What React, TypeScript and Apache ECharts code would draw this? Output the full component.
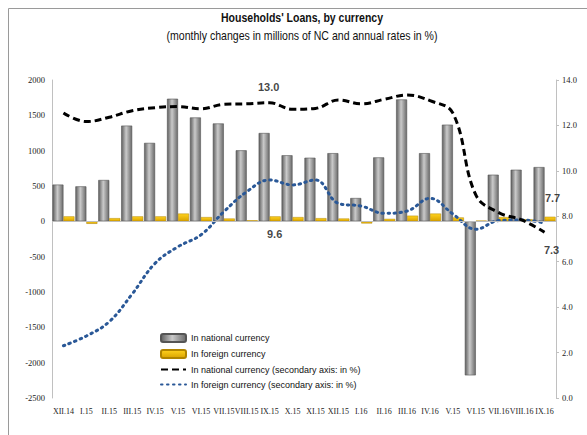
import React, { useEffect, useRef } from "react";
import * as echarts from "echarts";

const categories = ["XII.14", "I.15", "II.15", "III.15", "IV.15", "V.15", "VI.15", "VII.15", "VIII.15", "IX.15", "X.15", "XI.15", "XII.15", "I.16", "II.16", "III.16", "IV.16", "V.15", "VI.15", "VII.16", "VIII.16", "IX.16"];
const nationalBars = [520, 495, 585, 1355, 1110, 1735, 1470, 1385, 1005, 1250, 935, 900, 965, 330, 905, 1725, 965, 1368, -2180, 660, 730, 768];
const foreignBars = [70, -35, 45, 70, 70, 110, 60, 40, 15, 70, 60, 45, 40, -30, 35, 80, 110, 55, 10, 60, 30, 65];
const nationalRate = [12.55, 12.17, 12.36, 12.65, 12.78, 12.83, 12.73, 12.93, 12.95, 13.0, 12.71, 12.75, 13.12, 12.95, 13.15, 13.34, 13.09, 12.54, 8.94, 8.16, 7.84, 7.3];
const foreignRate = [2.3, 2.73, 3.36, 4.58, 5.93, 6.66, 7.18, 8.2, 9.08, 9.6, 9.38, 9.6, 8.57, 8.45, 8.13, 8.23, 8.79, 8.1, 7.43, 7.81, 7.84, 7.7];
const leftTicks = { min: -2500, max: 2000, interval: 500 };
const rightTicks = { min: 0, max: 14, interval: 2 };
const titleText = "Households' Loans, by currency";
const subtitleText = "(monthly changes in millions of NC and annual rates in %)";
const seriesNames = [
  "In national currency",
  "In foreign currency",
  "In national currency (secondary axis: in %)",
  "In foreign currency (secondary axis: in %)",
];

const SANS = "'Liberation Sans', Arial, sans-serif";
const SERIF = "'Liberation Serif', 'Times New Roman', serif";

function labelled(values: number[], idx: number[]) {
  return values.map((v, i) => (idx.includes(i) ? v : "-"));
}

export default function App() {
  const ref = useRef<HTMLDivElement>(null);
  useEffect(() => {
    const chart = echarts.init(ref.current!, null, { renderer: "svg" });
    const grayGrad = new echarts.graphic.LinearGradient(0, 0, 1, 0, [
      { offset: 0, color: "#5f5f5f" },
      { offset: 0.45, color: "#cacaca" },
      { offset: 1, color: "#6a6a6a" },
    ]);
    const goldGrad = new echarts.graphic.LinearGradient(0, 0, 0, 1, [
      { offset: 0, color: "#ffd21f" },
      { offset: 1, color: "#d9a300" },
    ]);
    const last = categories.length - 1;
    const lblBase = {
      show: true,
      formatter: (p: any) => Number(p.value).toFixed(1),
      fontFamily: SANS,
      fontWeight: "bold",
      fontSize: 11,
      color: "#111",
    };
    chart.setOption({
      animation: false,
      backgroundColor: "#ffffff",
      graphic: [
        {
          type: "rect",
          shape: { x: 8.5, y: 8.5, width: 640, height: 500 },
          style: { fill: "none", stroke: "#9a9a9a", lineWidth: 1 },
          silent: true,
        },
        {
          type: "text",
          x: 302,
          y: 18,
          scaleX: 0.81,
          style: {
            text: titleText,
            fontFamily: SANS,
            fontWeight: "bold",
            fontSize: 13,
            fill: "#111",
            align: "center",
            verticalAlign: "middle",
          },
        },
        {
          type: "text",
          x: 302,
          y: 36,
          scaleX: 0.88,
          style: {
            text: subtitleText,
            fontFamily: SANS,
            fontSize: 12,
            fill: "#111",
            align: "center",
            verticalAlign: "middle",
          },
        },
      ],
      legend: {
        orient: "vertical",
        left: 155,
        top: 328,
        itemGap: 6,
        itemWidth: 25,
        itemHeight: 8,
        textStyle: { fontFamily: SANS, fontSize: 9, color: "#111" },
        data: [
          { name: seriesNames[0] },
          { name: seriesNames[1] },
          { name: seriesNames[2], itemStyle: { opacity: 0 } },
          { name: seriesNames[3], itemStyle: { opacity: 0 } },
        ],
      },
      grid: { left: 52, right: 31, top: 80, bottom: 37 },
      xAxis: {
        type: "category",
        data: categories,
        axisLine: { show: false },
        axisTick: { show: false },
        axisLabel: {
          interval: 0,
          fontFamily: SERIF,
          fontSize: 8,
          color: "#222",
          margin: 9,
        },
      },
      yAxis: [
        {
          type: "value",
          ...leftTicks,
          splitLine: { show: false },
          axisLine: { show: true, lineStyle: { color: "#c0c0c0" } },
          axisTick: { show: false },
          axisLabel: {
            fontFamily: SERIF,
            fontSize: 8.5,
            color: "#222",
            margin: 7,
            formatter: (v: number) => String(v),
          },
        },
        {
          type: "value",
          ...rightTicks,
          position: "right",
          splitLine: { show: false },
          axisLine: { show: true, lineStyle: { color: "#c0c0c0" } },
          axisTick: { show: true, length: 3, lineStyle: { color: "#c0c0c0" } },
          axisLabel: {
            fontFamily: SERIF,
            fontSize: 8.5,
            color: "#222",
            margin: 6,
            formatter: (v: number) => v.toFixed(1),
          },
        },
      ],
      series: [
        {
          name: seriesNames[0],
          type: "bar",
          yAxisIndex: 0,
          data: nationalBars,
          barGap: "0%",
          barCategoryGap: "4%",
          itemStyle: { color: grayGrad, borderColor: "#555", borderWidth: 0.6 },
          markLine: {
            silent: true,
            symbol: "none",
            label: { show: false },
            lineStyle: { color: "#bdbdbd", type: "solid", width: 1 },
            data: [{ yAxis: 0 }],
          },
          z: 2,
        },
        {
          name: seriesNames[1],
          type: "bar",
          yAxisIndex: 0,
          data: foreignBars,
          itemStyle: { color: goldGrad, borderColor: "#b08400", borderWidth: 0.5 },
          z: 2,
        },
        {
          name: seriesNames[2],
          type: "line",
          yAxisIndex: 1,
          smooth: 0.4,
          symbol: "none",
          data: nationalRate,
          lineStyle: { color: "#000", width: 3, type: [7, 4] },
          itemStyle: { color: "#000" },
          z: 5,
        },
        {
          name: seriesNames[3],
          type: "line",
          yAxisIndex: 1,
          smooth: 0.4,
          symbol: "none",
          data: foreignRate,
          lineStyle: { color: "#2a5897", width: 3, type: [1.5, 4.5], cap: "round" },
          itemStyle: { color: "#2a5897" },
          z: 4,
        },
        {
          name: "national-labels",
          type: "scatter",
          yAxisIndex: 1,
          symbolSize: 0,
          silent: true,
          data: labelled(nationalRate, [9, last]).map((v, i) =>
            v === "-"
              ? "-"
              : {
                  value: v,
                  label:
                    i === 9
                      ? { ...lblBase, position: "top", offset: [-1, -5] }
                      : { ...lblBase, position: "bottom", offset: [7, 7] },
                }
          ),
          z: 6,
        },
        {
          name: "foreign-labels",
          type: "scatter",
          yAxisIndex: 1,
          symbolSize: 0,
          silent: true,
          data: labelled(foreignRate, [9, last]).map((v, i) =>
            v === "-"
              ? "-"
              : {
                  value: v,
                  label:
                    i === 9
                      ? { ...lblBase, position: "bottom", offset: [5, 44] }
                      : { ...lblBase, position: "top", offset: [8, -15] },
                }
          ),
          z: 6,
        },
      ],
    });
    return () => chart.dispose();
  }, []);
  return (
    <div
      ref={ref}
      style={{ position: "absolute", left: 0, top: 0, width: 587, height: 435 }}
    />
  );
}
